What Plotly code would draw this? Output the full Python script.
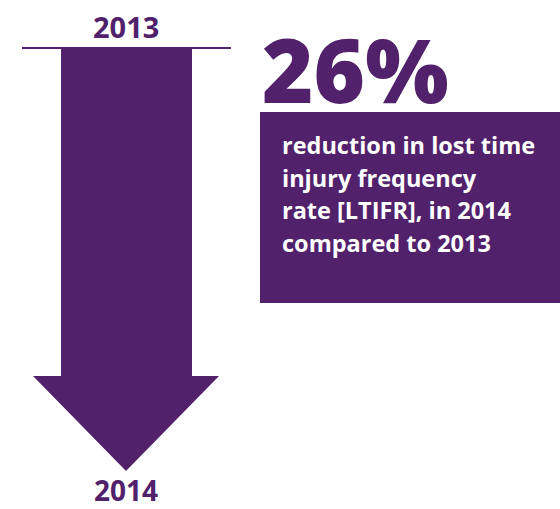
import plotly.graph_objects as go

# Content
years = ["2013", "2014"]
reduction_pct = [26]
description = ["reduction in lost time", "injury frequency", "rate [LTIFR], in 2014", "compared to 2013"]

PURPLE = "#51216B"
W, H = 560, 509

fig = go.Figure()

# Arrow body: shaft + head as a single filled polygon
shaft_l, shaft_r, shaft_top, shaft_bot = 61, 192, 49, 376
head_l, head_r, tip_x, tip_y = 33, 219, 126, 471
ax = [shaft_l, shaft_r, shaft_r, head_r, tip_x, head_l, shaft_l, shaft_l]
ay = [shaft_top, shaft_top, shaft_bot, shaft_bot, tip_y, shaft_bot, shaft_bot, shaft_top]
fig.add_trace(go.Scatter(x=ax, y=ay, fill="toself", fillcolor=PURPLE, mode="lines",
                         line=dict(width=0, color=PURPLE), hoverinfo="skip", showlegend=False))

# baseline bar across the top of the arrow
fig.add_shape(type="line", x0=22, x1=231, y0=48, y1=48, line=dict(color=PURPLE, width=2))

# description box
fig.add_shape(type="rect", x0=260, x1=W + 5, y0=112, y1=303, fillcolor=PURPLE, line=dict(width=0), layer="below")

# year labels
fig.add_annotation(x=126, y=26, text=years[0], showarrow=False, xanchor="center", yanchor="middle",
                   font=dict(family="Open Sans", size=29, color=PURPLE, weight=700))
fig.add_annotation(x=126, y=490, text=years[1], showarrow=False, xanchor="center", yanchor="middle",
                   font=dict(family="Open Sans", size=28, color=PURPLE, weight=700))

# headline figure
fig.add_annotation(x=260, y=69, text=f"{reduction_pct[0]}%", showarrow=False, xanchor="left", yanchor="middle",
                   font=dict(family="Open Sans", size=88, color=PURPLE, weight=800))

# description text, one annotation per line for wider leading
for i, line in enumerate(description):
    fig.add_annotation(x=280, y=145 + 32.5 * i, text=line, showarrow=False, xanchor="left", yanchor="middle",
                       align="left", font=dict(family="Open Sans", size=23.5, color="white", weight=700))

fig.update_xaxes(range=[0, W], visible=False, fixedrange=True)
fig.update_yaxes(range=[H, 0], visible=False, fixedrange=True)
fig.update_layout(width=W, height=H, margin=dict(l=0, r=0, t=0, b=0),
                  paper_bgcolor="white", plot_bgcolor="white")

fig.write_html("out.html")
